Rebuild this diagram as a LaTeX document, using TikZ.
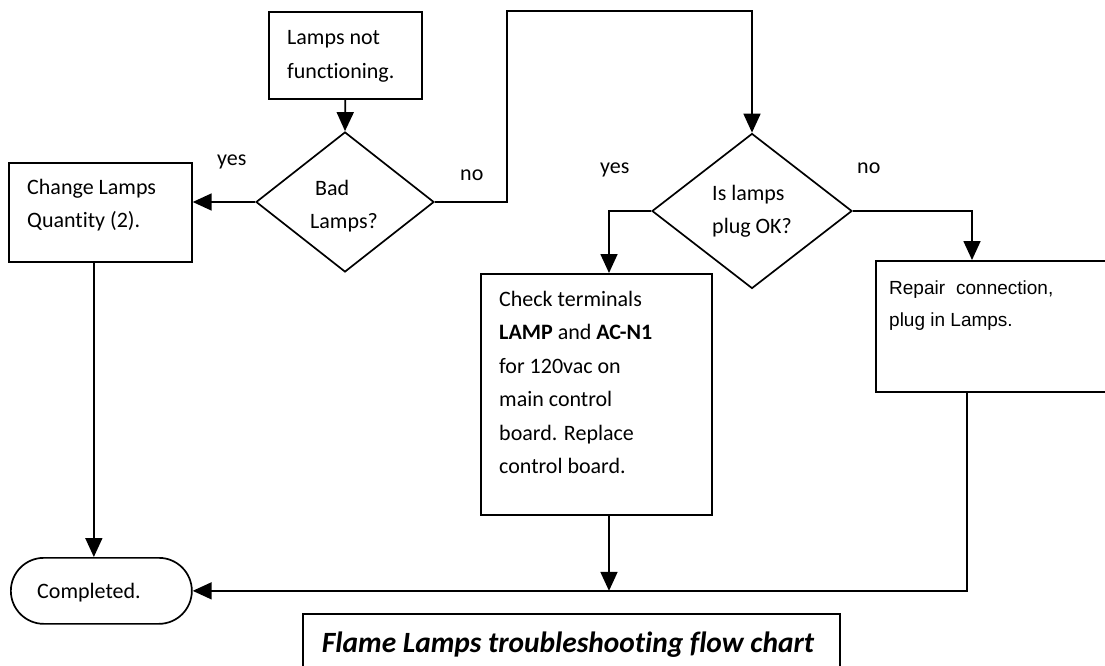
\documentclass[tikz,border=0pt]{standalone}
\usepackage{fontspec}
\setmainfont{Carlito}[Ligatures=CommonOff]
\newfontfamily\arialfont{Liberation Sans}
\usetikzlibrary{arrows.meta,shapes.geometric}

% stack of lines, baseline at the first line
\newcommand\linestack[1]{\vtop{\let\\\par\parindent=0pt\hsize=260pt\rightskip=0pt plus 1fil\relax #1}}

\begin{document}
\begin{tikzpicture}[x=1pt,y=-1pt,
  box/.style={draw, line width=1.7pt, rectangle, inner sep=0pt, anchor=north west},
  decision/.style={draw, line width=1.7pt, diamond, inner sep=0pt},
  flow/.style={line width=1.7pt, -{Triangle[length=19pt,width=17pt]}},
  txt/.style={inner sep=0pt, anchor=base west, font=\fontsize{22}{33.5}\selectfont},
  atxt/.style={inner sep=0pt, anchor=base west, font=\arialfont\fontsize{19}{32}\selectfont},
  lbl/.style={inner sep=0pt, anchor=base west, font=\fontsize{22}{26}\selectfont}]

% page area
\useasboundingbox[fill=white] (0,0) rectangle (1105,666);

% shapes
\node[box, minimum width=153pt, minimum height=87pt] (start) at (268,11) {};
\node[decision, minimum width=178pt, minimum height=140pt] (bad) at (345,202) {};
\node[box, minimum width=183pt, minimum height=99pt] (chg) at (8,162) {};
\node[draw, line width=1.7pt, rectangle, rounded corners=33pt, inner sep=0pt,
  minimum width=181pt, minimum height=66pt, anchor=north west] (done) at (10,557) {};
\node[decision, minimum width=200pt, minimum height=155pt] (plug) at (752,211) {};
\node[box, minimum width=231pt, minimum height=241pt] (chk) at (480,273) {};
\node[box, minimum width=240pt, minimum height=131pt] (rep) at (875,260) {};
\node[box, minimum width=537pt, minimum height=70pt] (title) at (302,613) {};

% texts
\node[txt] (startT) at (287,45) {\linestack{Lamps not\\functioning.}};
\node[txt] (badT) at (315,195) {\linestack{Bad\\\hspace*{-5pt}Lamps?}};
\node[txt] (chgT) at (27,194) {\linestack{Change Lamps\\Quantity (2).}};
\node[txt] (doneT) at (37,598) {Completed.};
\node[txt] (plugT) at (712,200) {\linestack{Is lamps\\plug OK?}};
\node[txt] (chkT) at (499,306) {\linestack{Check terminals\\\textbf{LAMP} and \textbf{AC-N1}\\for 120vac on\\main control\\board. Replace\\control board.}};
\node[atxt] (repT) at (889,294) {\linestack{Repair\hspace{0.3em} connection,\\plug in Lamps.}};
\node[inner sep=0pt, anchor=base, font=\fontsize{29.4}{33}\selectfont\bfseries\itshape]
  (titleT) at (568,652) {Flame Lamps troubleshooting flow chart};

% branch labels
\node[lbl] (yesA) at (217,165) {yes};
\node[lbl] (noA) at (460,180) {no};
\node[lbl] (yesB) at (600,173) {yes};
\node[lbl] (noB) at (857,173) {no};

% bend points
\coordinate (bendA) at (507,11);
\coordinate (chgOut) at ([xshift=-6.5pt]chg.south);
\coordinate (chkIn) at ([xshift=129pt]chk.north west);
\coordinate (chkOut) at ([xshift=129pt]chk.south west);
\coordinate (repIn) at ([xshift=97pt]rep.north west);
\coordinate (repOut) at ([xshift=92pt]rep.south west);

% connectors
\draw[flow] (start.south) -- (bad.north);
\draw[flow] (bad.west) -- (bad.west -| chg.east);
\draw[flow] (bad.east) -| (bendA) -| (plug.north);
\draw[flow] (chgOut) -- (chgOut |- done.north);
\draw[flow] (plug.west) -| (chkIn);
\draw[flow] (plug.east) -| (repIn);
\draw[flow] (chkOut) -- (chkOut |- done.east);
\draw[flow] (repOut) |- (done.east);
\end{tikzpicture}
\end{document}
